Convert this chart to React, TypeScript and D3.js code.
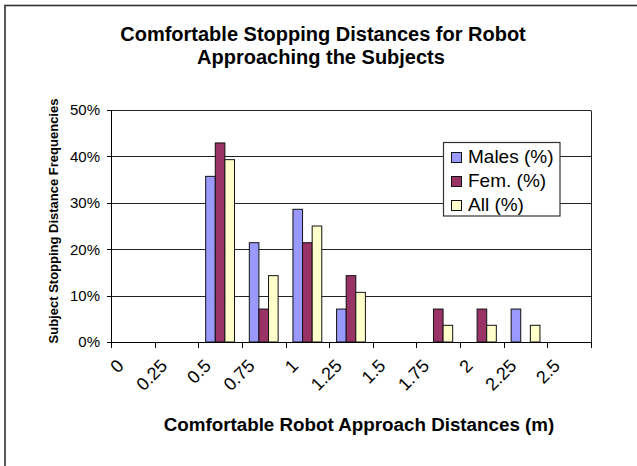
import * as d3 from "d3";

// approach distances (m), one category per bin
const distances = ["0", "0.25", "0.5", "0.75", "1", "1.25", "1.5", "1.75", "2", "2.25", "2.5"];
// percentage of subjects per bin
const males = [0, 0, 35.7, 21.4, 28.6, 7.1, 0, 0, 0, 7.1, 0];
const females = [0, 0, 42.9, 7.1, 21.4, 14.3, 0, 7.1, 7.1, 0, 0];
const allSubjects = [0, 0, 39.3, 14.3, 25.0, 10.7, 0, 3.6, 3.6, 3.6, 0];

const seriesNames = ["Males (%)", "Fem. (%)", "All (%)"];
const seriesColors = ["#9999FF", "#993366", "#FFFFCC"];
const yTicks = [0, 10, 20, 30, 40, 50];

const FONT = "'Liberation Sans', Arial, Helvetica, sans-serif";

export default function App() {
  const width = 637;
  const height = 466;
  const left = 111, right = 591, top = 110, bottom = 342;

  const series = [males, females, allSubjects];

  const x = d3.scaleBand<string>().domain(distances).range([left, right]).padding(0);
  const xs = d3
    .scaleBand<number>()
    .domain([0, 1, 2])
    .range([0, x.bandwidth()])
    .paddingInner(0)
    .paddingOuter(0.77);
  const y = d3.scaleLinear().domain([0, 50]).range([bottom, top]);

  const snap = (v: number) => Math.round(v) + 0.5;
  const boundaries = distances.map((d) => x(d)!).concat([right]);

  return (
    <svg
      width={width}
      height={height}
      style={{ position: "absolute", left: 0, top: 0, background: "#fff" }}
      fontFamily={FONT}
    >
      {/* chart area border, runs past the right/bottom edges */}
      <rect x={5} y={5.5} width={700} height={600} fill="none" stroke="#333" strokeWidth={1.6} />

      <text x={323} y={41} textAnchor="middle" fontSize={20} fontWeight="bold">
        Comfortable Stopping Distances for Robot
      </text>
      <text x={321} y={64} textAnchor="middle" fontSize={20} fontWeight="bold">
        Approaching the Subjects
      </text>

      {/* gridlines */}
      {yTicks.map((t) => (
        <line key={t} x1={left} x2={right} y1={snap(y(t))} y2={snap(y(t))} stroke="#222" strokeWidth={1} />
      ))}
      <line x1={snap(right)} x2={snap(right)} y1={snap(top)} y2={snap(bottom)} stroke="#222" />

      {/* bars */}
      {series.map((vals, si) =>
        vals.map((v, i) =>
          v > 0 ? (
            <rect
              key={si + "-" + i}
              x={x(distances[i])! + xs(si)!}
              y={y(v)}
              width={xs.bandwidth()}
              height={bottom - y(v)}
              fill={seriesColors[si]}
              stroke="#111"
              strokeWidth={1}
            />
          ) : null
        )
      )}

      {/* y axis */}
      <line x1={snap(left)} x2={snap(left)} y1={top} y2={bottom + 1} stroke="#000" />
      {yTicks.map((t) => (
        <g key={t}>
          <line x1={left - 4} x2={left} y1={snap(y(t))} y2={snap(y(t))} stroke="#000" />
          <text x={100} y={y(t)} dy="0.36em" textAnchor="end" fontSize={15}>
            {t + "%"}
          </text>
        </g>
      ))}

      {/* x axis */}
      <line x1={left} x2={right + 1} y1={snap(bottom)} y2={snap(bottom)} stroke="#000" />
      {boundaries.map((b, i) => (
        <line key={i} x1={snap(b)} x2={snap(b)} y1={bottom} y2={bottom + 6} stroke="#000" />
      ))}
      {distances.map((d) => {
        const cx = x(d)! + x.bandwidth() / 2;
        return (
          <text
            key={d}
            transform={`translate(${cx - 8},${367}) rotate(-45)`}
            textAnchor="end"
            fontSize={18}
          >
            {d}
          </text>
        );
      })}

      <text x={359} y={431} textAnchor="middle" fontSize={18.8} fontWeight="bold">
        Comfortable Robot Approach Distances (m)
      </text>
      <text
        transform={`translate(58,${(top + bottom) / 2 - 5}) rotate(-90)`}
        textAnchor="middle"
        fontSize={13}
        fontWeight="bold"
      >
        Subject Stopping Distance Frequencies
      </text>

      {/* legend */}
      <g>
        <rect x={443.5} y={142.5} width={116.5} height={73.5} fill="#fff" stroke="#333" strokeWidth={1.2} />
        {seriesNames.map((name, i) => (
          <g key={name} transform={`translate(451,${152.5 + i * 24})`}>
            <rect x={0.5} y={0} width={10} height={10} fill={seriesColors[i]} stroke="#111" />
            <text x={17} y={10.3} fontSize={19}>
              {name}
            </text>
          </g>
        ))}
      </g>
    </svg>
  );
}
